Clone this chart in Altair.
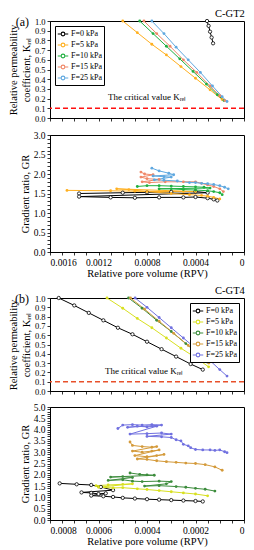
import altair as alt
import pandas as pd

SERIF = "Liberation Serif"
SERIES = ["F=0 kPa", "F=5 kPa", "F=10 kPa", "F=15 kPa", "F=25 kPa"]
COLORS_A = ["#000000", "#FFB020", "#20B040", "#F08868", "#5FA8E0"]
COLORS_B = ["#000000", "#D8E020", "#3C8C3C", "#D49A3A", "#7070E0"]
CRIT_TEXT = "The critical value Kᵣₑₗ"
KREL_TITLE = ["Relative permeability", "coefficient, Kᵣₑₗ"]
GR_TITLE = "Gradient ratio, GR"
X_TITLE = "Relative pore volume (RPV)"

# ---------------- (a) C-GT2 : Krel ----------------
a_k0_x = [0.000305, 0.000292, 0.000280, 0.000267, 0.000255]
a_k0_y = [1.00, 0.95, 0.89, 0.83, 0.77]
a_k5_x = [0.00100, 0.00088, 0.00076, 0.00064, 0.00052, 0.00040, 0.00028, 0.00018]
a_k5_y = [1.00, 0.88, 0.76, 0.65, 0.53, 0.41, 0.29, 0.19]
a_k10_x = [0.00086, 0.00075, 0.00064, 0.00053, 0.00042, 0.00031, 0.00022, 0.000165]
a_k10_y = [1.00, 0.87, 0.74, 0.61, 0.48, 0.35, 0.24, 0.18]
a_k15_x = [0.000825, 0.00072, 0.00061, 0.00050, 0.00039, 0.00028, 0.00020, 0.000157]
a_k15_y = [1.00, 0.87, 0.74, 0.60, 0.47, 0.33, 0.23, 0.18]
a_k25_x = [0.00076, 0.00066, 0.00056, 0.00046, 0.00036, 0.00026, 0.00018, 0.00014]
a_k25_y = [1.00, 0.87, 0.73, 0.60, 0.47, 0.33, 0.22, 0.17]

# ---------------- (a) C-GT2 : GR ----------------
a_g0_x = [0.00136, 0.00100, 0.00080, 0.00060, 0.00040, 0.00030, 0.00136, 0.00110, 0.00090,
          0.00070, 0.00050, 0.00040, 0.00030, 0.00025, 0.00022]
a_g0_y = [1.50, 1.52, 1.53, 1.54, 1.55, 1.52, 1.42, 1.40, 1.39, 1.40, 1.40, 1.41, 1.38, 1.35, 1.32]
a_g5_x = [0.00146, 0.00110, 0.00090, 0.00070, 0.00050, 0.00040, 0.00105, 0.00095, 0.00080,
          0.00060, 0.00045, 0.00035, 0.00030, 0.00025, 0.00020]
a_g5_y = [1.58, 1.57, 1.56, 1.55, 1.55, 1.55, 1.62, 1.60, 1.55, 1.50, 1.47, 1.45, 1.43, 1.40, 1.36]
a_g10_x = [0.00088, 0.00080, 0.00070, 0.00060, 0.00050, 0.00040, 0.00033, 0.00028, 0.00070,
           0.00060, 0.00050, 0.00040, 0.00030, 0.00025, 0.00020, 0.00018]
a_g10_y = [1.68, 1.70, 1.70, 1.69, 1.68, 1.67, 1.66, 1.64, 1.62, 1.62, 1.60, 1.59, 1.57, 1.55, 1.52, 1.47]
a_g15_x = [0.00085, 0.00082, 0.00075, 0.00085, 0.00080, 0.00070, 0.00084, 0.00078, 0.00065,
           0.00050, 0.00040, 0.00035, 0.00030, 0.00025, 0.00020, 0.00017]
a_g15_y = [2.05, 2.00, 1.98, 1.92, 1.88, 1.86, 1.80, 1.78, 1.80, 1.80, 1.80, 1.76, 1.72, 1.68, 1.62, 1.55]
a_g25_x = [0.00076, 0.00070, 0.00062, 0.00058, 0.00075, 0.00066, 0.00060, 0.00074, 0.00066,
           0.00055, 0.00045, 0.00040, 0.00035, 0.00030, 0.00025, 0.00020, 0.00016, 0.00013]
a_g25_y = [2.15, 2.08, 2.02, 1.98, 1.95, 1.93, 1.92, 1.85, 1.84, 1.82, 1.78, 1.78, 1.76, 1.75,
           1.73, 1.70, 1.66, 1.62]

# ---------------- (b) C-GT4 : Krel ----------------
b_k0_x = [0.000764, 0.00070, 0.00064, 0.00058, 0.00052, 0.00046, 0.00040, 0.00034, 0.00028,
          0.00022, 0.00017]
b_k0_y = [1.00, 0.92, 0.84, 0.76, 0.68, 0.61, 0.53, 0.45, 0.37, 0.29, 0.23]
b_k5_x = [0.000565, 0.00050, 0.00044, 0.00038, 0.00032, 0.00026, 0.00020, 0.000146]
b_k5_y = [1.00, 0.89, 0.78, 0.68, 0.57, 0.46, 0.36, 0.26]
b_k10_x = [0.000476, 0.00042, 0.00036, 0.00030, 0.00024, 0.00019, 0.00015]
b_k10_y = [1.00, 0.89, 0.76, 0.64, 0.51, 0.40, 0.31]
b_k15_x = [0.000468, 0.00041, 0.00035, 0.00029, 0.00023, 0.00018, 0.000145]
b_k15_y = [1.00, 0.88, 0.75, 0.62, 0.49, 0.38, 0.30]
b_k25_x = [0.000449, 0.00040, 0.00035, 0.00030, 0.00025, 0.00020, 0.00015, 0.00010, 0.00007]
b_k25_y = [1.00, 0.90, 0.79, 0.68, 0.57, 0.46, 0.35, 0.23, 0.16]

# ---------------- (b) C-GT4 : GR ----------------
b_g0_x = [0.00076, 0.00069, 0.00063, 0.00059, 0.00054, 0.00067, 0.00063, 0.00060, 0.00057,
          0.00063, 0.00058, 0.00054, 0.00050, 0.00045, 0.00040, 0.00035, 0.00030, 0.00025,
          0.00020, 0.00017]
b_g0_y = [1.62, 1.58, 1.55, 1.46, 1.32, 1.22, 1.20, 1.15, 1.18, 1.08, 1.05, 1.02, 0.98, 0.95,
          0.92, 0.90, 0.88, 0.86, 0.84, 0.82]
b_g5_x = [0.00061, 0.00056, 0.00050, 0.00046, 0.00060, 0.00054, 0.00050, 0.00044, 0.00040,
          0.00035, 0.00030, 0.00025, 0.00020, 0.00015]
b_g5_y = [1.52, 1.55, 1.58, 1.60, 1.45, 1.42, 1.43, 1.38, 1.35, 1.30, 1.25, 1.20, 1.15, 1.07]
b_g10_x = [0.00047, 0.00043, 0.00040, 0.00037, 0.00055, 0.00050, 0.00046, 0.00056, 0.00050,
           0.00046, 0.00042, 0.00035, 0.00030, 0.00032, 0.00041, 0.00035, 0.00028, 0.00024,
           0.00020, 0.00016, 0.00012]
b_g10_y = [2.08, 2.02, 2.00, 1.98, 1.90, 1.92, 1.88, 1.75, 1.78, 1.72, 1.70, 1.72, 1.70, 1.60,
           1.50, 1.52, 1.48, 1.45, 1.40, 1.36, 1.28]
b_g15_x = [0.00047, 0.00046, 0.00042, 0.00038, 0.00036, 0.00046, 0.00042, 0.00038, 0.00035,
           0.00045, 0.00040, 0.00036, 0.00033, 0.00044, 0.00040, 0.00036, 0.00032, 0.00028,
           0.00024, 0.00020, 0.00016, 0.00012, 0.00009]
b_g15_y = [3.45, 3.30, 3.25, 3.22, 3.25, 3.05, 3.00, 3.05, 3.10, 2.85, 2.80, 2.85, 2.90, 2.70,
           2.68, 2.62, 2.58, 2.55, 2.52, 2.50, 2.45, 2.35, 2.20]
b_g25_x = [0.00052, 0.00050, 0.00046, 0.00042, 0.00038, 0.00034, 0.00048, 0.00044, 0.00040,
           0.00036, 0.00047, 0.00040, 0.00034, 0.00030, 0.00040, 0.00034, 0.00030, 0.00028,
           0.00026, 0.00025, 0.00023, 0.00022, 0.00020, 0.00017, 0.00014, 0.00012, 0.00010,
           0.00008, 0.00007]
b_g25_y = [4.05, 4.20, 4.22, 4.20, 4.22, 4.20, 4.10, 4.15, 4.12, 4.15, 3.80, 3.82, 3.85, 3.80,
           3.70, 3.68, 3.65, 3.55, 3.50, 3.35, 3.28, 3.20, 3.12, 3.10, 3.10, 3.08, 3.10, 3.02, 2.98]

# legend symbol: short line with a small ring in the middle
LEG_SYMBOL = "M-1,0L-0.35,0M0.35,0L1,0M0.35,0A0.35,0.35 0 1,1 -0.35,0A0.35,0.35 0 1,1 0.35,0"


def frame(xs_list, ys_list):
    rows = []
    for s, xs, ys in zip(SERIES, xs_list, ys_list):
        for i, (x, y) in enumerate(zip(xs, ys)):
            rows.append({"F": s, "rpv": x, "val": y, "i": i})
    return pd.DataFrame(rows)


def panel(df, colors, xmax, xstep, major_every, show_x, ymax, ystep, ylabel_every,
          ytitle, height, legend, title=None, tag=None, crit=None, crit_color="red",
          ylabel_size=9.5):
    nx = int(round(xmax / xstep))
    xvals = [round(k * xstep, 6) for k in range(nx + 1)]
    ny = int(round(ymax / ystep))
    yvals = [round(k * ystep, 3) for k in range(ny + 1)]
    xlab = (f"round(datum.value/{xstep}) % {major_every} == 0 ? "
            f"(datum.value == 0 ? '0' : format(datum.value, '.4f')) : ''")
    ylab = f"round(datum.value/{ystep}) % {ylabel_every} == 0 ? format(datum.value, '.1f') : ''"
    xaxis = alt.Axis(values=xvals, labelExpr=xlab, labels=show_x, title=X_TITLE if show_x else None,
                     tickSize=3, labelPadding=2, titlePadding=2, labelOverlap=False, grid=False)
    yaxis = alt.Axis(values=yvals, labelExpr=ylab, title=ytitle, tickSize=3, labelPadding=2,
                     titlePadding=3, labelOverlap=False, grid=False, labelFontSize=ylabel_size)
    x = alt.X("rpv:Q", scale=alt.Scale(domain=[0, xmax], reverse=True, nice=False, zero=False),
              axis=xaxis)
    y = alt.Y("val:Q", scale=alt.Scale(domain=[0, ymax], nice=False), axis=yaxis)
    cscale = alt.Scale(domain=SERIES, range=colors)
    if legend:
        leg = alt.Legend(title=None, orient=legend, offset=5, symbolType=LEG_SYMBOL,
                         symbolSize=110, symbolStrokeWidth=1.1, labelFontSize=8,
                         labelFont=SERIF, strokeColor="black", padding=2, rowPadding=0,
                         labelOffset=2, fillColor="white", labelColor="black")
    else:
        leg = None
    base = alt.Chart(df)
    line = base.mark_line(strokeWidth=1).encode(
        x=x, y=y, color=alt.Color("F:N", scale=cscale, legend=leg, sort=SERIES), order="i:Q")
    p0 = base.transform_filter("datum.F == 'F=0 kPa'").mark_point(
        filled=True, fill="white", stroke="black", strokeWidth=0.8, size=11, opacity=1
    ).encode(x=x, y=y)
    pn = base.transform_filter("datum.F != 'F=0 kPa'").mark_circle(size=8, opacity=1).encode(
        x=x, y=y, color=alt.Color("F:N", scale=cscale, legend=None))
    layers = [line, p0, pn]
    if crit is not None:
        cdf = pd.DataFrame({"val": [0.1]})
        rule = alt.Chart(cdf).mark_rule(color=crit_color, strokeDash=[5, 3], strokeWidth=1.6).encode(
            y=y)
        tdf = pd.DataFrame({"rpv": [crit], "val": [0.22], "t": [CRIT_TEXT]})
        txt = alt.Chart(tdf).mark_text(font=SERIF, fontSize=9, color="black").encode(
            x=x, y=y, text="t:N")
        layers += [rule, txt]
    if tag is not None:
        gdf = pd.DataFrame({"t": [tag]})
        lab = alt.Chart(gdf).mark_text(font=SERIF, fontSize=12, align="right", baseline="middle",
                                       color="black").encode(
            x=alt.value(-21), y=alt.value(1), text="t:N")
        layers.append(lab)
    ch = alt.layer(*layers).properties(width=194, height=height)
    if title:
        ch = ch.properties(title=alt.TitleParams(title, anchor="end", fontSize=10.5, font=SERIF,
                                                 fontWeight="normal", offset=-3, color="black"))
    return ch.resolve_scale(color="independent")


dfa_k = frame([a_k0_x, a_k5_x, a_k10_x, a_k15_x, a_k25_x], [a_k0_y, a_k5_y, a_k10_y, a_k15_y, a_k25_y])
dfa_g = frame([a_g0_x, a_g5_x, a_g10_x, a_g15_x, a_g25_x], [a_g0_y, a_g5_y, a_g10_y, a_g15_y, a_g25_y])
dfb_k = frame([b_k0_x, b_k5_x, b_k10_x, b_k15_x, b_k25_x], [b_k0_y, b_k5_y, b_k10_y, b_k15_y, b_k25_y])
dfb_g = frame([b_g0_x, b_g5_x, b_g10_x, b_g15_x, b_g25_x], [b_g0_y, b_g5_y, b_g10_y, b_g15_y, b_g25_y])

a1 = panel(dfa_k, COLORS_A, 0.0016, 0.0001, 4, False, 1.0, 0.1, 1, KREL_TITLE, 97,
           "top-left", title="C-GT2", tag="(a)", crit=0.00080, crit_color="#FF1010",
           ylabel_size=8.5)
a2 = panel(dfa_g, COLORS_A, 0.0016, 0.0001, 4, True, 3.0, 0.1, 5, GR_TITLE, 117, None)
b1 = panel(dfb_k, COLORS_B, 0.0008, 0.00005, 4, False, 1.0, 0.1, 1, KREL_TITLE, 93,
           "top-right", title="C-GT4", tag="(b)", crit=0.000412, crit_color="#E8502A",
           ylabel_size=8.5)
b2 = panel(dfb_g, COLORS_B, 0.0008, 0.00005, 4, True, 5.0, 0.1, 5, GR_TITLE, 113, None)

ga = alt.vconcat(a1, a2, spacing=6).resolve_scale(color="independent")
gb = alt.vconcat(b1, b2, spacing=5).resolve_scale(color="independent")

chart = alt.vconcat(ga, gb, spacing=5).resolve_scale(color="independent").properties(
    padding={"left": 0, "top": 0, "right": 0, "bottom": 0}
).configure_axis(
    labelFont=SERIF, titleFont=SERIF, labelFontSize=9.5, titleFontSize=10.5,
    titleFontWeight="normal", labelColor="black", titleColor="black",
    domainColor="black", tickColor="black", tickWidth=0.8, domainWidth=1
).configure_view(stroke="black", strokeWidth=1).configure_concat(spacing=6)

chart.save("out.html", embed_options={"renderer": "svg", "actions": False})
